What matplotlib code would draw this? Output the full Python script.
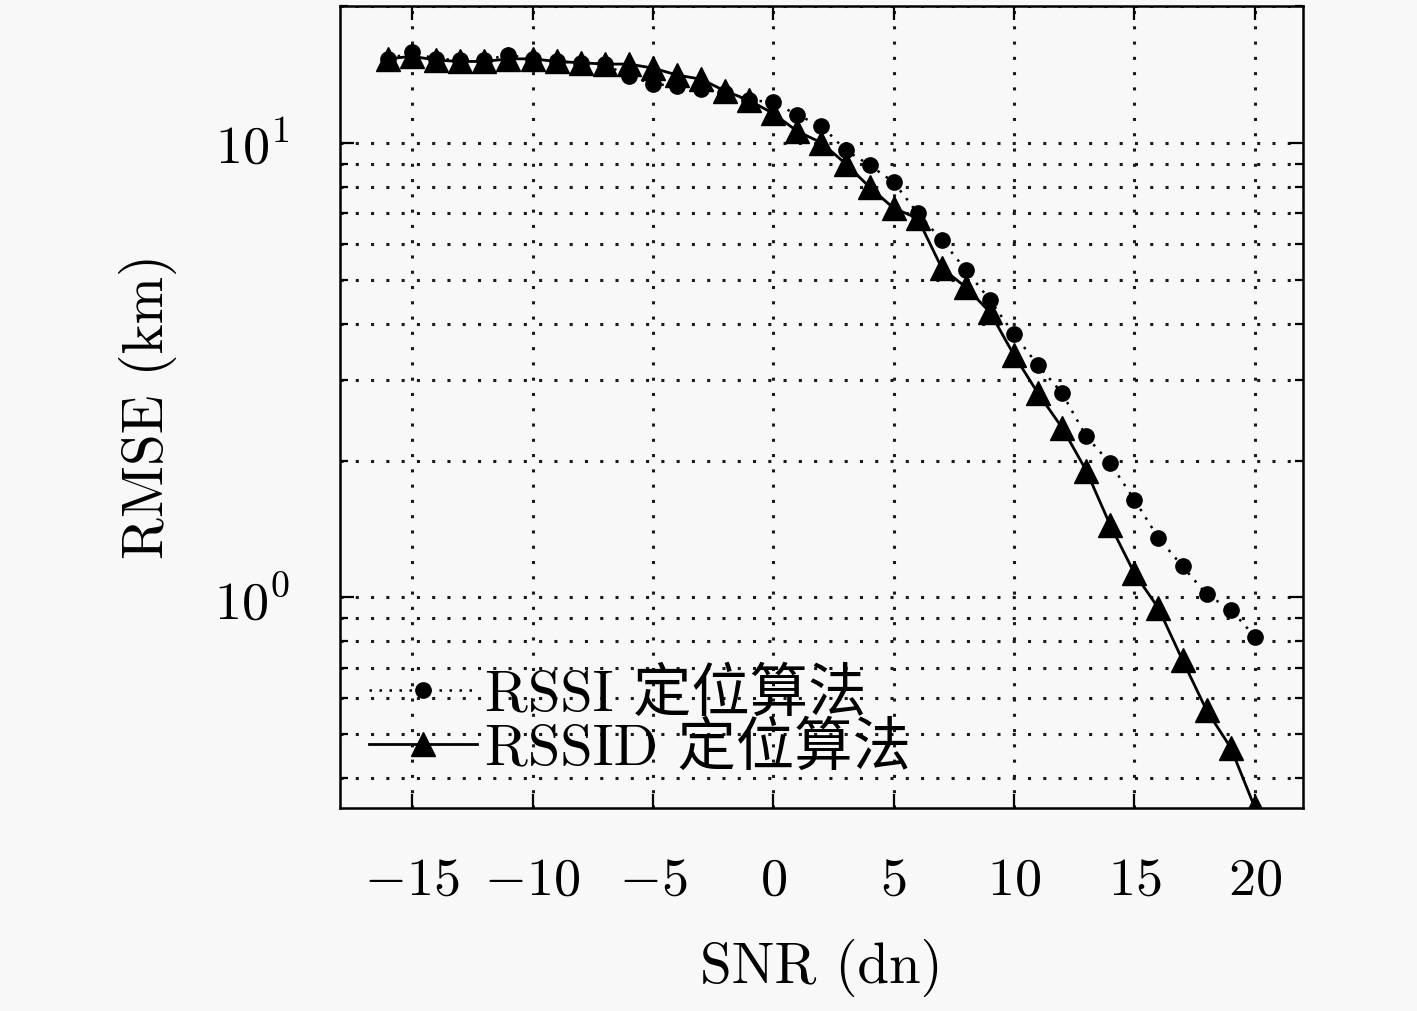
import numpy as np
import matplotlib
matplotlib.use("Agg")
import matplotlib.pyplot as plt
from matplotlib.ticker import LogLocator, NullFormatter

plt.rcParams['font.family'] = ['cmr10', 'Noto Sans CJK SC', 'DejaVu Sans']
plt.rcParams['mathtext.fontset'] = 'cm'
plt.rcParams['axes.formatter.use_mathtext'] = True

# SNR values (dn) and RMSE (km)
snr = list(range(-16, 21))
rmse_rssi = [15.3, 15.8, 15.3, 15.2, 15.2, 15.6, 15.3, 15.1, 15.0, 14.9,
             14.0, 13.5, 13.3, 13.1, 12.9, 12.4, 12.3, 11.5, 10.9, 9.64,
             8.93, 8.19, 7.00, 6.11, 5.25, 4.51, 3.79, 3.24, 2.81, 2.26,
             1.97, 1.64, 1.35, 1.17, 1.015, 0.94, 0.82]
rmse_rssid = [15.3, 15.5, 15.2, 15.1, 15.1, 15.3, 15.3, 15.1, 15.0, 14.9,
              14.9, 14.6, 14.1, 13.8, 13.0, 12.4, 11.6, 10.6, 10.0, 9.0,
              7.99, 7.18, 6.82, 5.30, 4.81, 4.24, 3.41, 2.81, 2.36, 1.90,
              1.44, 1.13, 0.946, 0.727, 0.564, 0.467, 0.345]
labels = ['RSSI 定位算法', 'RSSID 定位算法']
xticks = [-15, -10, -5, 0, 5, 10, 15, 20]

bg = '#f8f8f8'
fig = plt.figure(figsize=(14.17, 10.11), dpi=100, facecolor=bg)
ax = fig.add_axes([0.2399, 0.2008, 0.6796, 0.7933], facecolor=bg)

ax.plot(snr, rmse_rssi, color='black', linestyle=(0, (1, 3)), linewidth=1.8,
        marker='o', markersize=11, label=labels[0])
ax.plot(snr, rmse_rssid, color='black', linestyle='-', linewidth=2.0,
        marker='^', markersize=17, label=labels[1])

ax.set_yscale('log')
ax.set_xlim(-18, 22)
ax.set_ylim(0.344, 20)
ax.set_xticks(xticks)
ax.yaxis.set_major_locator(LogLocator(base=10))
ax.yaxis.set_minor_locator(LogLocator(base=10, subs=np.arange(2, 10)))
ax.yaxis.set_minor_formatter(NullFormatter())

grid_style = dict(linestyle=(0, (1, 4)), color='0.1', linewidth=2.2)
ax.grid(True, which='major', **grid_style)
ax.grid(True, which='minor', axis='y', **grid_style)

ax.tick_params(which='both', direction='in', top=True, right=True,
               labelsize=39, width=1.6)
ax.tick_params(which='major', length=10)
ax.tick_params(which='minor', length=6)
ax.tick_params(axis='x', pad=36)
ax.tick_params(axis='y', pad=36)
for s in ax.spines.values():
    s.set_linewidth(1.8)

ax.set_xlabel('SNR (dn)', fontsize=41, va='center')
ax.set_ylabel('RMSE (km)', fontsize=41, va='center')
ax.xaxis.set_label_coords(0.5, -0.2)
ax.yaxis.set_label_coords(-0.199, 0.5)

ax.legend(loc='lower left', bbox_to_anchor=(0.03, 0.04), frameon=False,
          fontsize=42, borderpad=0, borderaxespad=0, handlelength=1.85,
          handletextpad=0.15, labelspacing=0.0)

fig.savefig('out.png', dpi=100, facecolor=bg)
